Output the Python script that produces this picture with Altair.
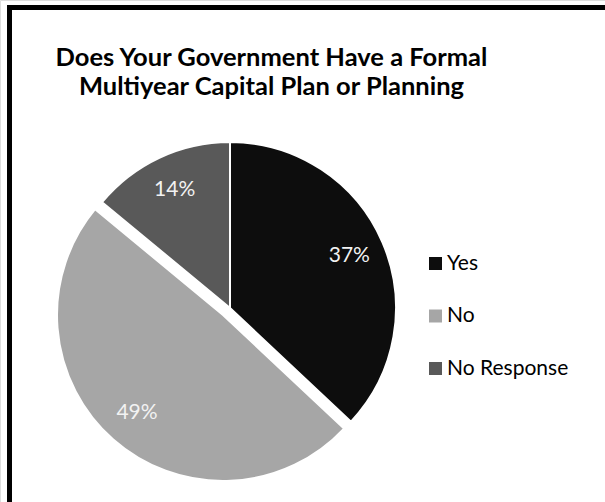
import altair as alt
import pandas as pd

categories = ["Yes", "No", "No Response"]
values = [37, 49, 14]
labels = ["37%", "49%", "14%"]
colors = ["#0d0d0d", "#a6a6a6", "#595959"]
title_lines = ["Does Your Government Have a Formal", "Multiyear Capital Plan or Planning"]

df = pd.DataFrame({"category": categories, "value": values, "label": labels,
                   "order": list(range(len(categories)))})

W, H = 605, 502
CX, CY, R = 230, 308, 166
EXPLODE = (-7, 7)  # offset of the "No" slice
LABEL_R = 130
FONT = "Lato"

color = alt.Color("category:N", scale=alt.Scale(domain=categories, range=colors),
                  legend=alt.Legend(title=None, orient="none", legendX=425, legendY=253,
                                    symbolType="square", symbolSize=169, symbolStrokeWidth=0,
                                    labelFontSize=21, labelFont=FONT, labelColor="#000000",
                                    rowPadding=30.5, labelOffset=1, padding=0))

base = alt.Chart(df).transform_stack(
    stack="value", groupby=[], as_=["t0", "t1"], sort=[alt.SortField("order")]
).transform_calculate(mid="(datum.t0 + datum.t1) / 2")

theta = alt.Theta("t0:Q", scale=alt.Scale(domain=[0, 100]))

arcs_main = base.transform_filter("datum.category != 'No'").mark_arc(
    stroke="white", strokeWidth=2
).encode(theta=theta, theta2="t1:Q", color=color,
         x=alt.value(CX), y=alt.value(CY), radius=alt.value(R))

arcs_no = base.transform_filter("datum.category == 'No'").mark_arc(
    stroke="white", strokeWidth=2
).encode(theta=theta, theta2="t1:Q", color=color,
         x=alt.value(CX + EXPLODE[0]), y=alt.value(CY + EXPLODE[1]), radius=alt.value(R))

text_main = base.transform_filter("datum.category != 'No'").mark_text(
    font=FONT, fontSize=21, color="#f2f2f2", align="center", baseline="middle"
).encode(theta=alt.Theta("mid:Q", scale=alt.Scale(domain=[0, 100])), text="label:N",
         x=alt.value(CX), y=alt.value(CY), radius=alt.value(LABEL_R))

text_no = base.transform_filter("datum.category == 'No'").mark_text(
    font=FONT, fontSize=21, color="#f2f2f2", align="center", baseline="middle"
).encode(theta=alt.Theta("mid:Q", scale=alt.Scale(domain=[0, 100])), text="label:N",
         x=alt.value(CX + EXPLODE[0]), y=alt.value(CY + EXPLODE[1]), radius=alt.value(LABEL_R))

border_left = alt.Chart(df).mark_rule(color="black", strokeWidth=5, strokeCap="square").encode(
    x=alt.value(9.5), y=alt.value(7.5), y2=alt.value(H + 10))
border_top = alt.Chart(df).mark_rule(color="black", strokeWidth=5, strokeCap="square").encode(
    x=alt.value(9.5), x2=alt.value(W + 10), y=alt.value(7.5))

chart = alt.layer(arcs_main, arcs_no, text_main, text_no, border_left, border_top).properties(
    width=W, height=H,
    autosize=alt.AutoSizeParams(type="none"),
    padding=0,
    title=alt.TitleParams(text=title_lines, font=FONT, fontSize=25.5, fontWeight="bold",
                          color="#000000", anchor="middle", baseline="top", offset=0,
                          dy=100, lineHeight=29, dx=-31),
).configure_view(stroke=None).configure(background="white")

chart.save("out.html", embed_options={"renderer": "svg", "actions": False})
